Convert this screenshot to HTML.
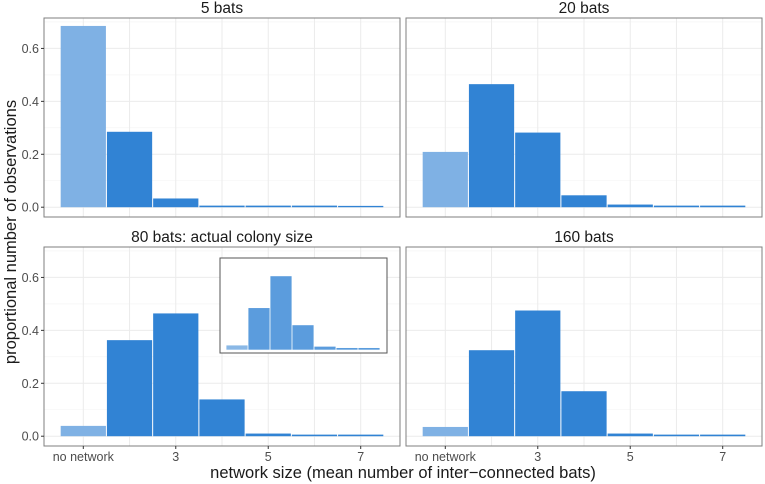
<!DOCTYPE html>
<html><head><meta charset="utf-8"><style>
html,body{margin:0;padding:0;background:#fff}
svg{display:block;font-family:"Liberation Sans",Arial,sans-serif}
</style></head><body>
<svg id="chart" width="765" height="484" viewBox="0 0 765 484"></svg>
<script>
const categories = ["no network","2","3","4","5","6","7"];
const tickLabels = ["no network","","3","","5","","7"];
const yTicks = [0,0.2,0.4,0.6];
const yTickLabels = ["0.0","0.2","0.4","0.6"];
const panelTitles = ["5 bats","20 bats","80 bats: actual colony size","160 bats"];
const vals5 = [0.685,0.285,0.033,0.006,0.006,0.006,0.005];
const vals20 = [0.209,0.465,0.282,0.045,0.01,0.006,0.006];
const vals80 = [0.039,0.363,0.464,0.139,0.01,0.006,0.006];
const vals160 = [0.035,0.325,0.475,0.170,0.01,0.006,0.006];
const insetVals = [0.035,0.34,0.6,0.2,0.025,0.014,0.014];

const NS="http://www.w3.org/2000/svg";
const svg=document.getElementById('chart');
function mk(tag,attrs,parent){const e=document.createElementNS(NS,tag);for(const k in attrs)e.setAttribute(k,attrs[k]);(parent||svg).appendChild(e);return e;}

const panels=[
 {x0:44,x1:400,y0:18,y1:217,vals:vals5,xlab:false,ylab:true},
 {x0:406,x1:762,y0:18,y1:217,vals:vals20,xlab:false,ylab:false},
 {x0:44,x1:400,y0:247,y1:446,vals:vals80,xlab:true,ylab:true,inset:true},
 {x0:406,x1:762,y0:247,y1:446,vals:vals160,xlab:true,ylab:false}
];
const xMin=0.15,xMax=7.85,yMin=-0.037,yMax=0.715;

panels.forEach((p,pi)=>{
  const g=mk('g',{});
  
  
  const xs=v=>p.x0+(v-xMin)/(xMax-xMin)*(p.x1-p.x0);
  const ys=v=>p.y1-(v-yMin)/(yMax-yMin)*(p.y1-p.y0);
  [0.1,0.3,0.5,0.7].forEach(v=>mk('line',{x1:p.x0,x2:p.x1,y1:ys(v),y2:ys(v),stroke:'#f3f3f3','stroke-width':0.6},g));
  yTicks.forEach(v=>mk('line',{x1:p.x0,x2:p.x1,y1:ys(v),y2:ys(v),stroke:'#ebebeb','stroke-width':1},g));
  categories.forEach((c,i)=>mk('line',{x1:xs(i+1),x2:xs(i+1),y1:p.y0,y2:p.y1,stroke:'#ebebeb','stroke-width':1},g));
  p.vals.forEach((v,i)=>{
    const r=mk('rect',{x:xs(i+0.5)+0.5,y:ys(v),width:xs(i+1.5)-xs(i+0.5)-1,height:ys(0)-ys(v),fill:i===0?'#7fb1e4':'#3183d4'},g);
    
    
  });
  mk('rect',{x:p.x0,y:p.y0,width:p.x1-p.x0,height:p.y1-p.y0,fill:'none',stroke:'#7f7f7f','stroke-width':1},g);
  const t=mk('text',{x:(p.x0+p.x1)/2,y:p.y0-5,'text-anchor':'middle','font-size':15.5,fill:'#1a1a1a'},g);
  t.textContent=panelTitles[pi];
  
  
  if(p.ylab){
    yTicks.forEach((v,i)=>{
      mk('line',{x1:p.x0-3,x2:p.x0,y1:ys(v),y2:ys(v),stroke:'#333'},g);
      const tt=mk('text',{x:p.x0-5,y:ys(v)+4.5,'text-anchor':'end','font-size':12.5,fill:'#4d4d4d'},g);
      tt.textContent=yTickLabels[i];
    });
  }
  if(p.xlab){
    tickLabels.forEach((l,i)=>{
      if(!l)return;
      mk('line',{x1:xs(i+1),x2:xs(i+1),y1:p.y1,y2:p.y1+3,stroke:'#333'},g);
      const tt=mk('text',{x:xs(i+1),y:p.y1+15,'text-anchor':'middle','font-size':12.5,fill:'#4d4d4d'},g);
      tt.textContent=l;
    });
  }
  if(p.inset){
    const ig=mk('g',{},g);
    
    
    const ix0=220,ix1=387,iy0=258,iy1=353;
    const ixs=v=>226+(v-0.5)*22;
    const iys=v=>349.7-v*122.5;
    mk('rect',{x:ix0,y:iy0,width:ix1-ix0,height:iy1-iy0,fill:'#fff',stroke:'#555','stroke-width':1},ig);
    insetVals.forEach((v,i)=>{
      const r=mk('rect',{x:ixs(i+0.5)+0.4,y:iys(v),width:21.2,height:iys(0)-iys(v),fill:i===0?'#8ab8e6':'#5b9cdd'},ig);
      
      
    });
  }
});
const xt=mk('text',{x:403,y:478,'text-anchor':'middle','font-size':16.5,fill:'#1a1a1a'});
xt.textContent='network size (mean number of inter\u2212connected bats)';


const yt=mk('text',{x:0,y:0,'text-anchor':'middle','font-size':16.5,fill:'#1a1a1a',transform:'translate(16,232) rotate(-90)'});
yt.textContent='proportional number of observations';


</script>
</body></html>
